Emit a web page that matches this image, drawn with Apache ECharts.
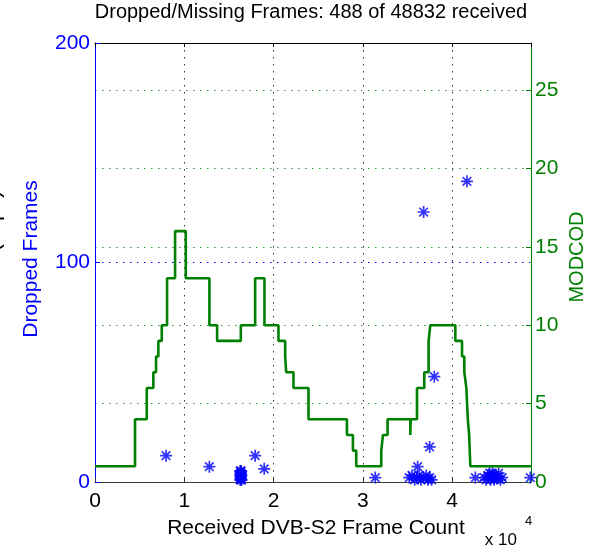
<!DOCTYPE html>
<html>
<head>
<meta charset="utf-8">
<title>Dropped/Missing Frames</title>
<script src="https://cdn.jsdelivr.net/npm/echarts@6/dist/echarts.min.js"></script>
<style>
  html, body { margin: 0; padding: 0; background: #fff; }
  #chart { width: 594px; height: 550px; }
</style>
</head>
<body>
<div id="chart"></div>
<script>
// Total frames received in the capture (x axis extent)
const totalFrames = 48832;
const droppedTotal = 488;

// MODCOD in use: each entry starts at stepX[i] and holds until the next one
const stepX = [0, 4484, 5796, 6535, 6838, 7096, 7477, 8071, 8968, 10168, 12813, 13676,
  16333, 17936, 18979, 20548, 21299, 21411, 22230, 23911, 28216, 28888, 29258,
  32061, 32251, 32767, 35311, 35360, 36063, 36881, 37363, 37554, 40356, 41107,
  41365, 41589, 41757, 41903, 42038, 48832];
const stepModcod = [1, 4, 6, 7, 8, 9, 10, 13, 16, 13, 10, 9,
  10, 13, 10, 9, 8, 7, 6, 4, 3, 2, 1,
  2, 3, 4, 3, 4, 6, 7, 9, 10, 9, 8,
  7, 6, 4, 3, 1, 1];

// Gaps in the frame counter: where each gap was seen and how many frames it lost
const dropX = [7960, 12810,
  16250, 16280, 16300, 16320, 16340, 16360, 16380, 16400, 16300, 16330, 16270, 16420,
  16290, 16350, 16310, 16370,
  17936, 18950, 31390,
  35200, 35500, 35800, 36050, 36130, 36300, 36500, 36800, 37100, 37300, 37500, 37700,
  37480, 38000, 36810, 41660, 42600,
  43600, 43800, 44000, 44200, 44300, 44400, 44500, 44600, 44700, 44800, 45000, 45200, 45400, 45600,
  48760];
const dropCount = [12, 7,
  1, 3, 5, 2, 4, 1, 5, 3, 2, 4, 5, 1,
  3, 2, 4, 3,
  12, 6, 2,
  2, 3, 1, 2, 7, 3, 1, 2, 3, 1, 2, 1,
  16, 48, 123, 137, 2,
  2, 1, 3, 4, 1, 2, 4, 3, 1, 3, 2, 4, 1, 2,
  2];

// Axis ticks
const xTickStep = 10000;
const leftTicks = { min: 0, max: 200, step: 100 };
const rightTicks = { min: 0, max: 28, step: 5 };

const FONT = 'Liberation Sans, Arial, Helvetica, sans-serif';
const BLUE = '#0000ff';
const GREEN = '#008000';

const stepData = stepX.map((x, i) => [x, stepModcod[i]]);
const dropData = dropX.map((x, i) => [x, dropCount[i]]);

// 8-armed asterisk marker
const asterisk = 'path://M0,-1L0,1M-1,0L1,0M-0.71,-0.71L0.71,0.71M-0.71,0.71L0.71,-0.71';

const chart = echarts.init(document.getElementById('chart'), null, { renderer: 'canvas' });

chart.setOption({
  animation: false,
  backgroundColor: '#ffffff',
  grid: { left: 95, right: 63, top: 43, bottom: 68, containLabel: false },
  xAxis: [
    {
      type: 'value',
      min: 0,
      max: totalFrames,
      interval: xTickStep,
      position: 'bottom',
      axisLine: { show: true, onZero: false, lineStyle: { color: '#3a3a3a', width: 1 } },
      axisTick: { show: true, inside: true, length: 4, lineStyle: { color: '#3a3a3a' } },
      axisLabel: {
        color: '#000', fontSize: 21, fontFamily: FONT, margin: 9,
        showMaxLabel: false,
        formatter: v => (v % xTickStep === 0 ? String(v / xTickStep) : '')
      },
      splitLine: {
        show: true, showMinLine: false, showMaxLine: false,
        lineStyle: { color: '#333', type: [1.5, 5.5], width: 1 }
      }
    },
    {
      type: 'value',
      min: 0,
      max: totalFrames,
      interval: xTickStep,
      position: 'top',
      axisLine: { show: true, onZero: false, lineStyle: { color: '#000', width: 1 } },
      axisTick: { show: true, inside: true, length: 4, lineStyle: { color: '#000' } },
      axisLabel: { show: false },
      splitLine: { show: false }
    }
  ],
  yAxis: [
    {
      type: 'value',
      position: 'left',
      min: leftTicks.min,
      max: leftTicks.max,
      interval: leftTicks.step,
      axisLine: { show: true, onZero: false, lineStyle: { color: BLUE, width: 1 } },
      axisTick: { show: true, inside: true, length: 5, lineStyle: { color: BLUE } },
      axisLabel: { color: BLUE, fontSize: 21, fontFamily: FONT, margin: 5 },
      splitLine: {
        show: true, showMinLine: false, showMaxLine: false,
        lineStyle: { color: BLUE, type: [1.5, 5.5], width: 1 }
      }
    },
    {
      type: 'value',
      position: 'right',
      min: rightTicks.min,
      max: rightTicks.max,
      interval: rightTicks.step,
      axisLine: { show: true, onZero: false, lineStyle: { color: GREEN, width: 1 } },
      axisTick: { show: true, inside: true, length: 5, lineStyle: { color: GREEN } },
      axisLabel: {
        color: GREEN, fontSize: 21, fontFamily: FONT, margin: 4,
        showMaxLabel: false,
        formatter: v => (v % rightTicks.step === 0 ? String(v) : '')
      },
      splitLine: {
        show: true, showMinLine: false, showMaxLine: false,
        lineStyle: { color: '#2f9a2f', type: [1.5, 5.5], width: 1 }
      }
    }
  ],
  series: [
    {
      name: 'Dropped Frames',
      type: 'scatter',
      xAxisIndex: 0,
      yAxisIndex: 0,
      data: dropData,
      symbol: asterisk,
      symbolSize: 12,
      clip: false,
      itemStyle: { color: BLUE, borderColor: BLUE, borderWidth: 1.7 },
      z: 2
    },
    {
      name: 'MODCOD',
      type: 'line',
      xAxisIndex: 0,
      yAxisIndex: 1,
      step: 'end',
      data: stepData,
      showSymbol: false,
      symbol: 'none',
      lineStyle: { color: GREEN, width: 2.6 },
      z: 3
    }
  ],
  graphic: [
    {
      type: 'text', x: 311, y: 12,
      style: {
        text: 'Dropped/Missing Frames: ' + droppedTotal + ' of ' + totalFrames + ' received',
        fill: '#000', font: '20px ' + FONT,
        align: 'center', verticalAlign: 'middle', textAlign: 'center', textVerticalAlign: 'middle'
      }
    },
    {
      type: 'text', x: 316, y: 528,
      style: {
        text: 'Received DVB-S2 Frame Count', fill: '#000', font: '21px ' + FONT,
        align: 'center', verticalAlign: 'middle', textAlign: 'center', textVerticalAlign: 'middle'
      }
    },
    {
      type: 'text', x: 517, y: 540,
      style: {
        text: 'x 10', fill: '#000', font: '17px ' + FONT,
        align: 'right', verticalAlign: 'middle', textAlign: 'right', textVerticalAlign: 'middle'
      }
    },
    {
      type: 'text', x: 525, y: 521,
      style: {
        text: '4', fill: '#000', font: '13px ' + FONT,
        align: 'left', verticalAlign: 'middle', textAlign: 'left', textVerticalAlign: 'middle'
      }
    },
    {
      type: 'text', x: 31, y: 259, rotation: Math.PI / 2,
      style: {
        text: 'Dropped Frames', fill: BLUE, font: '21px ' + FONT,
        align: 'center', verticalAlign: 'middle', textAlign: 'center', textVerticalAlign: 'middle'
      }
    },
    {
      type: 'text', x: 577, y: 257, rotation: Math.PI / 2,
      style: {
        text: 'MODCOD', fill: GREEN, font: '20px ' + FONT,
        align: 'center', verticalAlign: 'middle', textAlign: 'center', textVerticalAlign: 'middle'
      }
    },
    {
      // units of the rate axis further left, mostly outside the page
      type: 'text', x: -6.6, y: 221, rotation: Math.PI / 2,
      style: {
        text: '(kbps)', fill: '#000', font: '22px ' + FONT,
        align: 'center', verticalAlign: 'middle', textAlign: 'center', textVerticalAlign: 'middle'
      }
    }
  ]
});
</script>
</body>
</html>
